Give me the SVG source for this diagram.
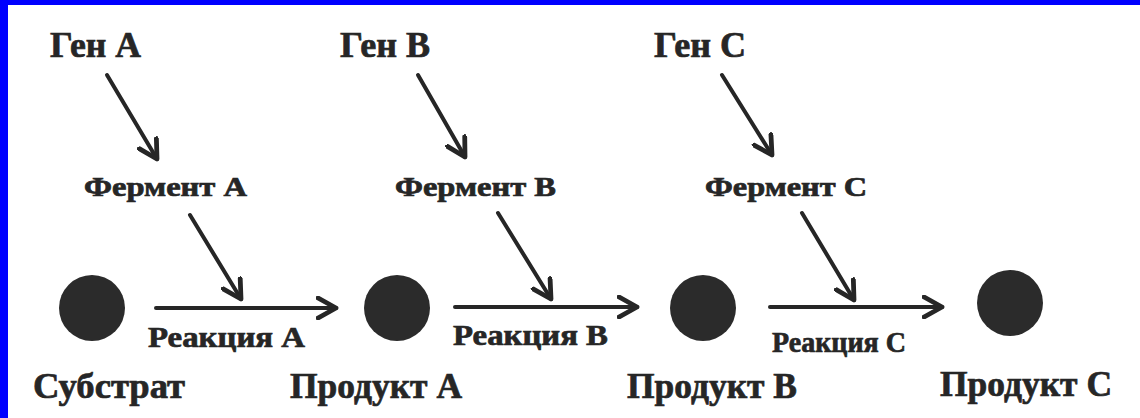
<svg xmlns="http://www.w3.org/2000/svg" width="1140" height="418" viewBox="0 0 1140 418">
<style>
.t{font-family:"Liberation Serif","Times New Roman",serif;font-weight:bold;fill:#262626;stroke:#262626;stroke-width:0.7}
.g{font-size:36px}
.f{font-size:28px}
.r{font-size:29px}
.p{font-size:36px}
.c{stroke:#262626;stroke-width:4;fill:none;stroke-linecap:round}
.n{fill:#2b2b2b}
</style>
<defs>
<marker id="ah" viewBox="0 0 12 12" refX="10" refY="6" markerWidth="6" markerHeight="6" orient="auto" markerUnits="strokeWidth">
<path d="M1,1 L10,6 L1,11" fill="none" stroke="#262626" stroke-width="2.4" stroke-linecap="round" stroke-linejoin="round"/>
</marker>
</defs>
<rect x="0" y="0" width="1140" height="418" fill="#fff"/>
<rect x="0" y="0" width="1140" height="5" fill="#0000ff"/>
<rect x="0" y="0" width="8" height="418" fill="#0000ff"/>

<g id="connectors">
<line class="c" x1="107" y1="75" x2="157" y2="159" marker-end="url(#ah)"/>
<line class="c" x1="418" y1="75" x2="465" y2="157" marker-end="url(#ah)"/>
<line class="c" x1="722" y1="75" x2="772" y2="155" marker-end="url(#ah)"/>
<line class="c" x1="190" y1="215" x2="241" y2="299" marker-end="url(#ah)"/>
<line class="c" x1="498" y1="213" x2="551" y2="299" marker-end="url(#ah)"/>
<line class="c" x1="802" y1="213" x2="854" y2="300" marker-end="url(#ah)"/>
<line class="c" x1="156" y1="308" x2="336" y2="308" marker-end="url(#ah)"/>
<line class="c" x1="455" y1="307" x2="637" y2="307" marker-end="url(#ah)"/>
<line class="c" x1="770" y1="307" x2="942" y2="307" marker-end="url(#ah)"/>
</g>

<g id="gene-a"><text class="t g" x="50" y="57" textLength="91" lengthAdjust="spacingAndGlyphs">Ген А</text></g>
<g id="gene-b"><text class="t g" x="340" y="57" textLength="90" lengthAdjust="spacingAndGlyphs">Ген В</text></g>
<g id="gene-c"><text class="t g" x="654" y="57" textLength="92" lengthAdjust="spacingAndGlyphs">Ген С</text></g>

<g id="enzyme-a"><text class="t f" x="84" y="196" textLength="163" lengthAdjust="spacingAndGlyphs">Фермент А</text></g>
<g id="enzyme-b"><text class="t f" x="395" y="196" textLength="161" lengthAdjust="spacingAndGlyphs">Фермент В</text></g>
<g id="enzyme-c"><text class="t f" x="705" y="196" textLength="162" lengthAdjust="spacingAndGlyphs">Фермент С</text></g>

<g id="substrate"><circle class="n" cx="92" cy="308" r="33"/><text class="t p" x="33" y="398" textLength="152" lengthAdjust="spacingAndGlyphs">Субстрат</text></g>
<g id="product-a"><circle class="n" cx="397" cy="308" r="33"/><text class="t p" x="290" y="398" textLength="172" lengthAdjust="spacingAndGlyphs">Продукт А</text></g>
<g id="product-b"><circle class="n" cx="703" cy="308" r="33"/><text class="t p" x="627" y="398" textLength="170" lengthAdjust="spacingAndGlyphs">Продукт В</text></g>
<g id="product-c"><circle class="n" cx="1010" cy="303" r="33"/><text class="t p" x="940" y="396" textLength="172" lengthAdjust="spacingAndGlyphs">Продукт С</text></g>

<g id="reaction-a"><text class="t r" x="148" y="347" textLength="157" lengthAdjust="spacingAndGlyphs">Реакция А</text></g>
<g id="reaction-b"><text class="t r" x="453" y="345" textLength="155" lengthAdjust="spacingAndGlyphs">Реакция В</text></g>
<g id="reaction-c"><text class="t r" x="772" y="352" textLength="134" lengthAdjust="spacingAndGlyphs">Реакция С</text></g>
</svg>
